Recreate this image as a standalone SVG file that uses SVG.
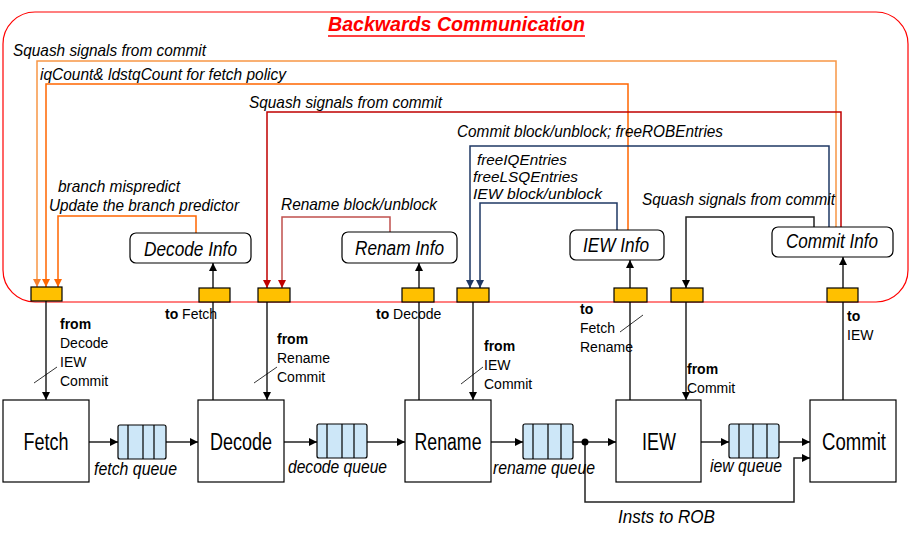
<svg xmlns="http://www.w3.org/2000/svg" width="909" height="542" viewBox="0 0 909 542">
<style>
text{font-family:"Liberation Sans",Arial,sans-serif;fill:#000}
.it{font-style:italic;font-size:17px}
.it2{font-style:italic;font-size:15px}
.info{font-style:italic;font-size:20px}
.blk{font-size:23px}
.sm{font-size:14px}
.b{font-weight:bold}
.q{font-style:italic;font-size:19px}
.ln{fill:none;stroke-width:1.5}
.k{stroke:#222}
.yb{fill:#FFC000;stroke:#000;stroke-width:1.2}
.box{fill:#fff;stroke:#000;stroke-width:1.2}
.ib{fill:#fff;stroke:#000;stroke-width:1.2}
.qc{fill:#CDE7F8;stroke:#000;stroke-width:1.2}
</style>
<defs>
<marker id="ak" markerUnits="userSpaceOnUse" markerWidth="9" markerHeight="9" refX="8" refY="4" orient="auto"><path d="M0,0 L8,4 L0,8 z" fill="#000"/></marker>
<marker id="ao1" markerUnits="userSpaceOnUse" markerWidth="9" markerHeight="9" refX="8" refY="4" orient="auto"><path d="M0,0 L8,4 L0,8 z" fill="#F77F2A"/></marker>
<marker id="ao2" markerUnits="userSpaceOnUse" markerWidth="9" markerHeight="9" refX="8" refY="4" orient="auto"><path d="M0,0 L8,4 L0,8 z" fill="#FF6600"/></marker>
<marker id="ar" markerUnits="userSpaceOnUse" markerWidth="9" markerHeight="9" refX="8" refY="4" orient="auto"><path d="M0,0 L8,4 L0,8 z" fill="#C00000"/></marker>
<marker id="an" markerUnits="userSpaceOnUse" markerWidth="9" markerHeight="9" refX="8" refY="4" orient="auto"><path d="M0,0 L8,4 L0,8 z" fill="#1F3864"/></marker>
</defs>

<g id="backwards-frame">
<rect x="3" y="12" width="905" height="290" rx="32" ry="32" fill="none" stroke="#FF0000" stroke-width="1.2"/>
<text x="328" y="31" font-size="20" font-weight="bold" font-style="italic" style="fill:#FF0000" textLength="257" lengthAdjust="spacingAndGlyphs">Backwards Communication</text>
<line x1="328" y1="36" x2="585" y2="36" stroke="#FF0000" stroke-width="1.5"/>
</g>

<g id="connectors">
<path class="ln" stroke="#F79646" d="M836,228 V61 H37 V287" marker-end="url(#ao1)"/>
<path class="ln" stroke="#FF6600" d="M628,232 V84 H46 V287" marker-end="url(#ao2)"/>
<path class="ln" stroke="#FF6600" d="M196,233 V216 H58 V287" marker-end="url(#ao2)"/>
<path class="ln" stroke="#C00000" d="M841,227 V112 H267 V288" marker-end="url(#ar)"/>
<path class="ln" stroke="#C0504D" d="M390,232 V217 H282 V288" marker-end="url(#ar)"/>
<path class="ln" stroke="#1F3864" d="M829,227 V146 H470 V288" marker-end="url(#an)"/>
<path class="ln" stroke="#1F3864" d="M617,230 V203 H480 V288" marker-end="url(#an)"/>
<path class="ln k" d="M814,227 V217 H686 V288" marker-end="url(#ak)"/>

<path class="ln k" d="M46,301 V400" marker-end="url(#ak)"/>
<path class="ln k" d="M213,400 V302"/>
<path class="ln k" d="M213,289 V263" marker-end="url(#ak)"/>
<path class="ln k" d="M267,302 V400" marker-end="url(#ak)"/>
<path class="ln k" d="M419,400 V302"/>
<path class="ln k" d="M419,289 V263" marker-end="url(#ak)"/>
<path class="ln k" d="M473,302 V400" marker-end="url(#ak)"/>
<path class="ln k" d="M630,400 V302"/>
<path class="ln k" d="M630,289 V260" marker-end="url(#ak)"/>
<path class="ln k" d="M686,302 V400" marker-end="url(#ak)"/>
<path class="ln k" d="M843,400 V302"/>
<path class="ln k" d="M843,289 V257" marker-end="url(#ak)"/>

<line x1="34" y1="383" x2="57" y2="367" stroke="#000" stroke-width="0.8"/>
<line x1="254" y1="383" x2="277" y2="367" stroke="#000" stroke-width="0.8"/>
<line x1="461" y1="384" x2="483" y2="367" stroke="#000" stroke-width="0.8"/>
<line x1="620" y1="332" x2="643" y2="315" stroke="#000" stroke-width="0.8"/>

<path class="ln k" d="M89,442 H118" marker-end="url(#ak)"/>
<path class="ln k" d="M166,442 H198" marker-end="url(#ak)"/>
<path class="ln k" d="M284,442 H317" marker-end="url(#ak)"/>
<path class="ln k" d="M367,442 H405" marker-end="url(#ak)"/>
<path class="ln k" d="M491,442 H523" marker-end="url(#ak)"/>
<path class="ln k" d="M573,442 H616" marker-end="url(#ak)"/>
<path class="ln k" d="M701,442 H729" marker-end="url(#ak)"/>
<path class="ln k" d="M779,442 H810" marker-end="url(#ak)"/>
<path class="ln k" d="M585,442 V502 H794 V458 H810" marker-end="url(#ak)"/>
<circle cx="585" cy="442" r="3.5" fill="#000"/>
</g>

<g id="labels-top">
<text class="it" x="13" y="56" textLength="193" lengthAdjust="spacingAndGlyphs">Squash signals from commit</text>
<text class="it" x="40" y="80" textLength="246" lengthAdjust="spacingAndGlyphs">iqCount&amp; ldstqCount for fetch policy</text>
<text class="it" x="249" y="108" textLength="193" lengthAdjust="spacingAndGlyphs">Squash signals from commit</text>
<text class="it" x="457" y="137" textLength="266" lengthAdjust="spacingAndGlyphs">Commit block/unblock; freeROBEntries</text>
<text class="it2" x="477" y="165" textLength="90" lengthAdjust="spacingAndGlyphs">freeIQEntries</text>
<text class="it2" x="473" y="182" textLength="105" lengthAdjust="spacingAndGlyphs">freeLSQEntries</text>
<text class="it2" x="473" y="199" textLength="129" lengthAdjust="spacingAndGlyphs">IEW block/unblock</text>
<text class="it" x="642" y="205" textLength="193" lengthAdjust="spacingAndGlyphs">Squash signals from commit</text>
<text class="it" x="58" y="192" textLength="122" lengthAdjust="spacingAndGlyphs">branch mispredict</text>
<text class="it" x="49" y="211" textLength="190" lengthAdjust="spacingAndGlyphs">Update the branch predictor</text>
<text class="it" x="281" y="210" textLength="156" lengthAdjust="spacingAndGlyphs">Rename block/unblock</text>
</g>

<g id="decode-info">
<rect class="ib" x="130" y="233" width="121" height="30" rx="6"/>
<text class="info" x="144" y="256" textLength="93" lengthAdjust="spacingAndGlyphs">Decode Info</text>
</g>
<g id="renam-info">
<rect class="ib" x="342" y="232" width="115" height="31" rx="6"/>
<text class="info" x="355" y="255" textLength="89" lengthAdjust="spacingAndGlyphs">Renam Info</text>
</g>
<g id="iew-info">
<rect class="ib" x="570" y="230" width="94" height="30" rx="6"/>
<text class="info" x="583" y="252" textLength="66" lengthAdjust="spacingAndGlyphs">IEW Info</text>
</g>
<g id="commit-info">
<rect class="ib" x="772" y="227" width="121" height="30" rx="6"/>
<text class="info" x="786" y="248" textLength="92" lengthAdjust="spacingAndGlyphs">Commit Info</text>
</g>

<g id="latch-fetch"><rect class="yb" x="31" y="287" width="31" height="14"/></g>
<g id="latch-decode-to"><rect class="yb" x="199" y="288" width="31" height="14"/></g>
<g id="latch-decode-from"><rect class="yb" x="258" y="288" width="32" height="14"/></g>
<g id="latch-rename-to"><rect class="yb" x="402" y="288" width="32" height="14"/></g>
<g id="latch-rename-from"><rect class="yb" x="457" y="288" width="32" height="14"/></g>
<g id="latch-iew-to"><rect class="yb" x="614" y="288" width="33" height="14"/></g>
<g id="latch-iew-from"><rect class="yb" x="671" y="288" width="32" height="14"/></g>
<g id="latch-commit-to"><rect class="yb" x="827" y="288" width="31" height="14"/></g>

<g id="labels-small">
<text class="sm b" x="60" y="329">from</text>
<text class="sm" x="60" y="348">Decode</text>
<text class="sm" x="60" y="367">IEW</text>
<text class="sm" x="60" y="386">Commit</text>
<text class="sm" x="165" y="319"><tspan class="b">to</tspan> Fetch</text>
<text class="sm b" x="277" y="344">from</text>
<text class="sm" x="277" y="363">Rename</text>
<text class="sm" x="277" y="382">Commit</text>
<text class="sm" x="376" y="319"><tspan class="b">to</tspan> Decode</text>
<text class="sm b" x="484" y="351">from</text>
<text class="sm" x="484" y="370">IEW</text>
<text class="sm" x="484" y="389">Commit</text>
<text class="sm b" x="580" y="314">to</text>
<text class="sm" x="580" y="333">Fetch</text>
<text class="sm" x="580" y="352">Rename</text>
<text class="sm b" x="687" y="374">from</text>
<text class="sm" x="687" y="393">Commit</text>
<text class="sm b" x="847" y="321">to</text>
<text class="sm" x="847" y="340">IEW</text>
</g>

<g id="fetch">
<rect class="box" x="3" y="400" width="86" height="82"/>
<text class="blk" x="46" y="450" text-anchor="middle" textLength="45" lengthAdjust="spacingAndGlyphs">Fetch</text>
</g>
<g id="decode">
<rect class="box" x="198" y="400" width="86" height="82"/>
<text class="blk" x="241" y="450" text-anchor="middle" textLength="62" lengthAdjust="spacingAndGlyphs">Decode</text>
</g>
<g id="rename">
<rect class="box" x="405" y="400" width="86" height="82"/>
<text class="blk" x="448" y="450" text-anchor="middle" textLength="67" lengthAdjust="spacingAndGlyphs">Rename</text>
</g>
<g id="iew">
<rect class="box" x="616" y="400" width="85" height="82"/>
<text class="blk" x="659" y="450" text-anchor="middle" textLength="34" lengthAdjust="spacingAndGlyphs">IEW</text>
</g>
<g id="commit">
<rect class="box" x="810" y="400" width="86" height="82"/>
<text class="blk" x="854" y="450" text-anchor="middle" textLength="64" lengthAdjust="spacingAndGlyphs">Commit</text>
</g>

<g id="fetch-queue">
<rect class="qc" x="118" y="425" width="48" height="34" rx="2"/>
<path d="M128,425 V459 M143,425 V459 M154,425 V459" stroke="#000" stroke-width="1.2"/>
<text class="q" x="94" y="475" textLength="83" lengthAdjust="spacingAndGlyphs">fetch queue</text>
</g>
<g id="decode-queue">
<rect class="qc" x="317" y="424" width="50" height="34" rx="2"/>
<path d="M327,424 V458 M342,424 V458 M354,424 V458" stroke="#000" stroke-width="1.2"/>
<text class="q" x="288" y="473" textLength="99" lengthAdjust="spacingAndGlyphs">decode queue</text>
</g>
<g id="rename-queue">
<rect class="qc" x="523" y="424" width="50" height="35" rx="2"/>
<path d="M533,424 V459 M548,424 V459 M561,424 V459" stroke="#000" stroke-width="1.2"/>
<text class="q" x="493" y="474" textLength="102" lengthAdjust="spacingAndGlyphs">rename queue</text>
</g>
<g id="iew-queue">
<rect class="qc" x="729" y="424" width="50" height="34" rx="2"/>
<path d="M739,424 V458 M753,424 V458 M767,424 V458" stroke="#000" stroke-width="1.2"/>
<text class="q" x="710" y="472" textLength="72" lengthAdjust="spacingAndGlyphs">iew queue</text>
</g>
<g id="insts-to-rob">
<text class="q" x="618" y="523" textLength="97" lengthAdjust="spacingAndGlyphs">Insts to ROB</text>
</g>
</svg>
